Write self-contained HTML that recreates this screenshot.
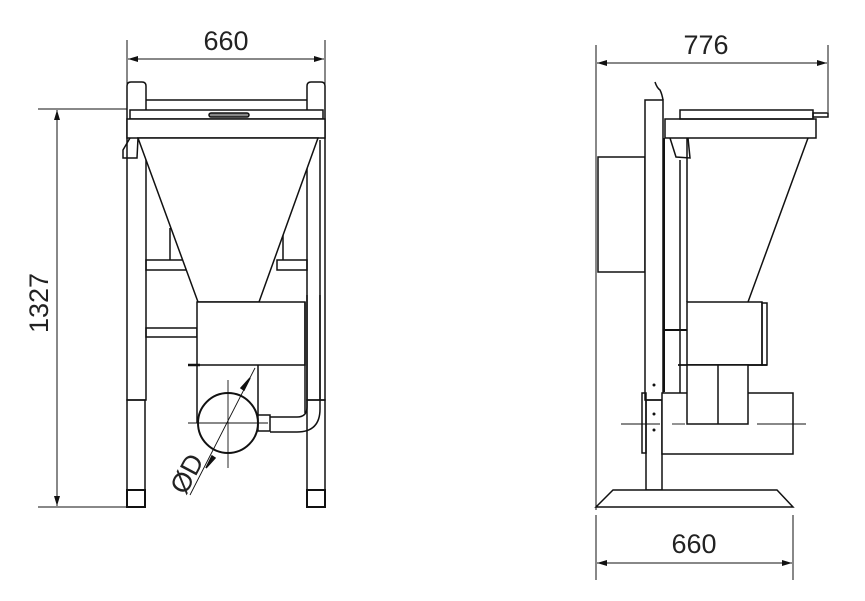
<!DOCTYPE html>
<html><head><meta charset="utf-8"><style>
html,body{margin:0;padding:0;background:#fff}
svg{display:block}
text{font-family:"Liberation Sans",sans-serif;font-size:27px;fill:#222}
</style></head><body>
<svg width="865" height="601" viewBox="0 0 865 601" xmlns="http://www.w3.org/2000/svg">
<defs>
<marker id="a" viewBox="0 0 10 6" refX="10" refY="3" markerWidth="10" markerHeight="6" orient="auto-start-reverse" markerUnits="userSpaceOnUse"><path d="M0,0 L10,3 L0,6 z" fill="#111"/></marker>
</defs>
<g fill="none" stroke="#111" stroke-width="1.5">
<line x1="127" y1="40" x2="127" y2="84" stroke-width="1"/>
<line x1="325" y1="40" x2="325" y2="84" stroke-width="1"/>
<line x1="128" y1="59" x2="324" y2="59" stroke-width="1" marker-start="url(#a)" marker-end="url(#a)"/>
<line x1="38" y1="109" x2="127" y2="109" stroke-width="1"/>
<line x1="38" y1="507" x2="127" y2="507" stroke-width="1"/>
<line x1="57" y1="110" x2="57" y2="506" stroke-width="1" marker-start="url(#a)" marker-end="url(#a)"/>
<path d="M127,400 V86 q0,-4 4,-4 h11 q4,0 4,4 V400 z"/>
<path d="M307,400 V86 q0,-4 4,-4 h10 q4,0 4,4 V400 z"/>
<rect x="127" y="400" width="18" height="90"/>
<rect x="307" y="400" width="18" height="90"/>
<rect x="127" y="490" width="18" height="17" stroke-width="2"/>
<rect x="307" y="490" width="18" height="17" stroke-width="2"/>
<line x1="146" y1="100" x2="307" y2="100"/>
<rect x="130" y="110" width="193" height="9" fill="#fff"/>
<rect x="209" y="113" width="40" height="4" rx="2" fill="#888"/>
<rect x="127" y="119" width="198" height="19" fill="#fff"/>
<path d="M130,138 L123,150 L123,158 L137,158 L138,138"/>
<rect x="146" y="260" width="40" height="10"/>
<rect x="277" y="260" width="30" height="10"/>
<rect x="146" y="328" width="51" height="9"/>
<line x1="170" y1="228" x2="170" y2="260"/>
<line x1="283" y1="228" x2="283" y2="260"/>
<path d="M138,138 L318,138 L259,302 L198,302 z" fill="#fff"/>
<line x1="320" y1="140" x2="320" y2="400"/>
<rect x="197" y="302" width="108" height="63" fill="#fff"/>
<line x1="305" y1="302" x2="305" y2="413"/>
<path d="M197,365 V423 M258,365 V415"/>
<line x1="188" y1="365" x2="200" y2="365" stroke-width="2.5"/>
<rect x="258" y="415" width="12" height="16"/>
<path d="M270,417 H297 q10,0 10,-10 V295 M270,432 H297 q23,0 23,-23 V295"/>
<circle cx="228" cy="423" r="30" fill="#fff" stroke-width="2"/>
<g stroke-width="0.9">
<line x1="188" y1="423" x2="268" y2="423"/>
<line x1="228" y1="380" x2="228" y2="468"/>
<line x1="255" y1="368" x2="190" y2="495"/>
</g>
<path d="M250,378 l-6,12 l-3,-2 z M206,468 l6,-12 l3,2 z" fill="#111"/>
<line x1="596" y1="45" x2="596" y2="510" stroke-width="1"/>
<line x1="828" y1="45" x2="828" y2="112" stroke-width="1"/>
<line x1="597" y1="63" x2="827" y2="63" stroke-width="1" marker-start="url(#a)" marker-end="url(#a)"/>
<line x1="596" y1="515" x2="596" y2="580" stroke-width="1"/>
<line x1="793" y1="515" x2="793" y2="580" stroke-width="1"/>
<line x1="597" y1="563" x2="792" y2="563" stroke-width="1" marker-start="url(#a)" marker-end="url(#a)"/>
<path d="M655,82 q2,6 5,8 q2,4 3,10"/>
<rect x="598" y="157" width="47" height="115"/>
<rect x="645" y="100" width="18" height="300" fill="#fff"/>
<rect x="646" y="400" width="16" height="90"/>
<rect x="642" y="393" width="4" height="60"/>
<rect x="680" y="110" width="133" height="9"/>
<rect x="813" y="113" width="15" height="4"/>
<rect x="665" y="119" width="151" height="19"/>
<path d="M670,138 L676,157 L690,158 L688,138"/>
<line x1="664" y1="138" x2="664" y2="392" stroke-width="2"/>
<line x1="680" y1="160" x2="680" y2="393"/>
<path d="M687,138 V302 M808,138 L748,302"/>
<rect x="687" y="302" width="75" height="63"/>
<rect x="762" y="303" width="5" height="62"/>
<line x1="664" y1="330" x2="687" y2="330" stroke-width="2"/>
<line x1="678" y1="365" x2="767" y2="365" stroke-width="1.8"/>
<rect x="662" y="393" width="131" height="61" fill="#fff"/>
<rect x="687" y="365" width="61" height="59" fill="#fff"/>
<line x1="718" y1="365" x2="718" y2="424"/>
<g stroke-width="0.9"><line x1="621" y1="424" x2="660" y2="424"/><line x1="672" y1="424" x2="685" y2="424"/><line x1="757" y1="424" x2="806" y2="424"/></g>
<path d="M613,490 H777 L793,507 H596 z" fill="#fff"/>
</g>
<g fill="#111"><circle cx="654" cy="385" r="1.5"/><circle cx="654" cy="414" r="1.5"/><circle cx="654" cy="430" r="1.5"/></g>
<text x="226" y="50" text-anchor="middle">660</text>
<text x="706" y="54" text-anchor="middle">776</text>
<text x="694" y="553" text-anchor="middle">660</text>
<text transform="translate(48,303) rotate(-90)" text-anchor="middle">1327</text>
<text transform="translate(195,478) rotate(-62)" text-anchor="middle">ØD</text>
</svg>
</body></html>
